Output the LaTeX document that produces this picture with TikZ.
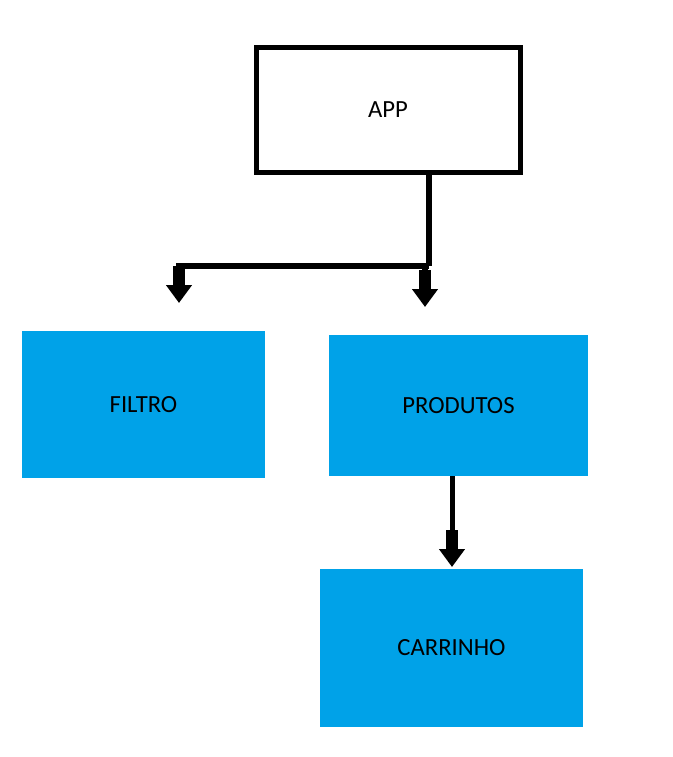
\documentclass[tikz,border=0pt]{standalone}
\usepackage{fontspec}
\setmainfont{Carlito}
\usepackage{tikz}
\usetikzlibrary{positioning,calc,arrows.meta}
\definecolor{paintblue}{HTML}{00A2E8}

\begin{document}
\begin{tikzpicture}[x=0.75pt, y=-0.75pt,
  boxlabel/.style={font=\fontsize{18.5}{22}\selectfont, text=black},
  topbox/.style={boxlabel, draw=black, line width=3.75pt, fill=white, inner sep=0pt},
  bluebox/.style={boxlabel, fill=paintblue, inner sep=0pt},
  link/.style={draw=black, line width=4.5pt},
  fatarrow/.style={draw=black, line width=#1,
    -{Rectangle[length=14pt,width=9pt] Triangle[length=13.5pt,width=18.75pt]}},
]
\useasboundingbox (0,0) rectangle (672,757);

% boxes
\node[topbox, minimum width=198pt, minimum height=93.75pt] (app) at (388,110) {APP};
\node[bluebox, minimum width=182.25pt, minimum height=110.25pt] (filtro) at (143.5,404.5) {FILTRO};
\node[bluebox, minimum width=194.25pt, minimum height=105.75pt] (produtos) at (458.5,405.5) {PRODUTOS};
\node[bluebox, minimum width=197.25pt, minimum height=118.5pt] (carrinho) at (451.5,648) {CARRINHO};

% connectors
\coordinate (split) at (429,266);
\coordinate (filtroin) at (179,303);
\coordinate (produtosin) at (425,307);
\coordinate (produtosout) at (452,476);
\coordinate (carrinhoin) at (452,567);

\draw[link] (app.south -| split) -- (split);
\draw[fatarrow=4.5pt] (split) -| (filtroin);
\draw[fatarrow=4.5pt] (produtosin |- split) -- (produtosin);
\draw[fatarrow=3.75pt] (produtosout) -- (carrinhoin);
\end{tikzpicture}
\end{document}
